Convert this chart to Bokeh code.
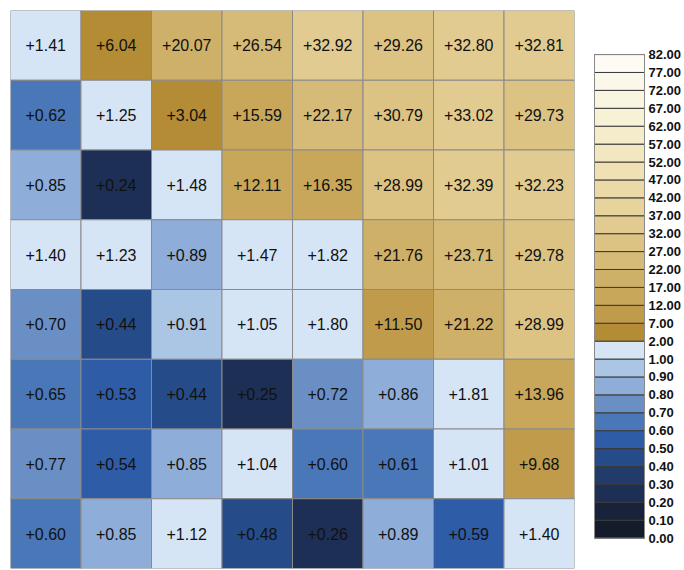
from bokeh.plotting import figure
from bokeh.layouts import row
from bokeh.models import Range1d, ColumnDataSource
from bokeh.core.properties import value
from bokeh.embed import file_html
from bokeh.resources import INLINE

# ---- data ----
rows = [
    [1.41, 6.04, 20.07, 26.54, 32.92, 29.26, 32.80, 32.81],
    [0.62, 1.25, 3.04, 15.59, 22.17, 30.79, 33.02, 29.73],
    [0.85, 0.24, 1.48, 12.11, 16.35, 28.99, 32.39, 32.23],
    [1.40, 1.23, 0.89, 1.47, 1.82, 21.76, 23.71, 29.78],
    [0.70, 0.44, 0.91, 1.05, 1.80, 11.50, 21.22, 28.99],
    [0.65, 0.53, 0.44, 0.25, 0.72, 0.86, 1.81, 13.96],
    [0.77, 0.54, 0.85, 1.04, 0.60, 0.61, 1.01, 9.68],
    [0.60, 0.85, 1.12, 0.48, 0.26, 0.89, 0.59, 1.40],
]
bounds = [0.0, 0.1, 0.2, 0.3, 0.4, 0.5, 0.6, 0.7, 0.8, 0.9, 1.0, 2.0,
          7.0, 12.0, 17.0, 22.0, 27.0, 32.0, 37.0, 42.0, 47.0, 52.0,
          57.0, 62.0, 67.0, 72.0, 77.0, 82.0]
bin_colors = [
    "#141b2b", "#18233b", "#1d2f55", "#213c6b", "#264b89", "#2e5ca6",
    "#4a77b7", "#6a8fc5", "#8eadd8", "#abc5e5", "#d6e5f6",
    "#b38c35", "#bf9b4b", "#c8a75b", "#cfb069", "#d6ba78", "#dcc384",
    "#e2cb90", "#e7d39c", "#ebdaa8", "#efe1b4", "#f2e7c0", "#f5eccb",
    "#f7f1d6", "#faf5e1", "#fbf8ea", "#fdfbf3",
]

def color_for(v):
    for i in range(len(bounds) - 1):
        if bounds[i] <= v < bounds[i + 1]:
            return bin_colors[i]
    return bin_colors[-1]

n = len(rows)
xs, ys, cs, labels = [], [], [], []
for r, vals in enumerate(rows):
    for c, v in enumerate(vals):
        xs.append(c + 0.5)
        ys.append(n - r - 0.5)
        cs.append(color_for(v))
        labels.append("+%.2f" % v)
src = ColumnDataSource(dict(x=xs, y=ys, color=cs, label=labels))

p = figure(width=584, height=570, output_backend="svg", toolbar_location=None,
           x_range=Range1d(0, 8), y_range=Range1d(0, 8),
           min_border_left=10, min_border_right=10, min_border_top=10, min_border_bottom=2)
p.axis.visible = False
p.grid.visible = False
p.outline_line_color = None
p.background_fill_color = "white"
p.border_fill_color = "white"
p.rect(x="x", y="y", width=1, height=1, source=src, fill_color="color",
       line_color="#8a8a8a", line_width=1)
p.text(x="x", y="y", text="label", source=src, text_align="center",
       text_baseline="middle", text_font=value("Liberation Sans"),
       text_font_size="16px", text_color="#111111")

# ---- colour bar ----
nb = len(bin_colors)
px_per = 494.0 / nb
cb = figure(width=100, height=570, output_backend="svg", toolbar_location=None,
            x_range=Range1d(0, 100),
            y_range=Range1d(-31.0 / px_per, nb + 45.0 / px_per),
            min_border=0, min_border_left=0, min_border_right=0,
            min_border_top=0, min_border_bottom=0)
cb.axis.visible = False
cb.grid.visible = False
cb.outline_line_color = None
cb.border_fill_color = "white"
cb.background_fill_color = "white"
cbsrc = ColumnDataSource(dict(y=[i + 0.5 for i in range(nb)], color=bin_colors))
cb.rect(x=35, y="y", width=50, height=1, source=cbsrc, fill_color="color",
        line_color="#3a3a3a", line_width=1)
cb.rect(x=35, y=nb / 2.0, width=50, height=nb, fill_color=None,
        line_color="#8a8a8a", line_width=1)
lsrc = ColumnDataSource(dict(y=list(range(len(bounds))),
                             t=["%.2f" % b for b in bounds]))
cb.text(x=64, y="y", text="t", source=lsrc, text_align="left",
        text_baseline="middle", text_font=value("Liberation Sans"),
        text_font_size="13px", text_font_style="bold", text_color="#111111")

layout = row(p, cb, spacing=0)
open("out.html", "w").write(file_html(layout, INLINE))
